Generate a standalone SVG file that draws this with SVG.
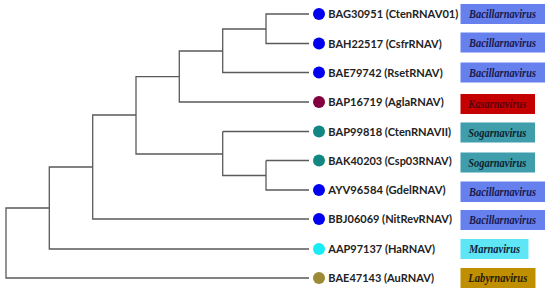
<svg xmlns="http://www.w3.org/2000/svg" width="550" height="292" viewBox="0 0 550 292">
<style>
.br{fill:none;stroke:#5a5a5a;stroke-width:1.3}
.lb{font-family:Lato,"Liberation Sans",sans-serif;font-weight:bold;font-size:12px;fill:#222}
.gn{font-family:"Liberation Serif",serif;font-weight:bold;font-style:italic;font-size:11.5px}
.bac{fill:#6680EE}
.kas{fill:#C40000}
.sog{fill:#3F9DAC}
.mar{fill:#5EE6F6}
.lab{fill:#BF8F00}
</style>
<rect width="550" height="292" fill="#fff"/>
<g id="connectors">
<path class="br" d="M309,14H266V43.5H309M266,29H222.7V72.5H309M222.7,51H179.3V102H309M179.3,76.7H136V154H222.7M222.7,131.5H309M222.7,131.5V175.5H266M266,160.5H309M266,160.5V190H309M136,115H92.7V219H309M92.7,167H49.3V249H309M49.3,208H6V278H309"/>
</g>
<g id="tip1"><circle cx="319" cy="14" r="6" fill="#0000F0"/><text class="lb" x="328.3" y="18.3" textLength="130" lengthAdjust="spacingAndGlyphs">BAG30951 (CtenRNAV01)</text></g>
<g id="tip2"><circle cx="319" cy="43.5" r="6" fill="#0000F0"/><text class="lb" x="328.3" y="47.8" textLength="113.4" lengthAdjust="spacingAndGlyphs">BAH22517 (CsfrRNAV)</text></g>
<g id="tip3"><circle cx="319" cy="72.5" r="6" fill="#0000F0"/><text class="lb" x="328.3" y="76.8" textLength="114.4" lengthAdjust="spacingAndGlyphs">BAE79742 (RsetRNAV)</text></g>
<g id="tip4"><circle cx="319" cy="102" r="6" fill="#82003F"/><text class="lb" x="328.3" y="106.3" textLength="115.4" lengthAdjust="spacingAndGlyphs">BAP16719 (AglaRNAV)</text></g>
<g id="tip5"><circle cx="319" cy="131.5" r="6" fill="#128682"/><text class="lb" x="328.3" y="135.8" textLength="122.7" lengthAdjust="spacingAndGlyphs">BAP99818 (CtenRNAVII)</text></g>
<g id="tip6"><circle cx="319" cy="160.5" r="6" fill="#128682"/><text class="lb" x="328.3" y="164.8" textLength="123.4" lengthAdjust="spacingAndGlyphs">BAK40203 (Csp03RNAV)</text></g>
<g id="tip7"><circle cx="319" cy="190" r="6" fill="#0000F0"/><text class="lb" x="328.3" y="194.3" textLength="117.4" lengthAdjust="spacingAndGlyphs">AYV96584 (GdelRNAV)</text></g>
<g id="tip8"><circle cx="319" cy="219" r="6" fill="#0000F0"/><text class="lb" x="328.3" y="223.3" textLength="123.7" lengthAdjust="spacingAndGlyphs">BBJ06069 (NitRevRNAV)</text></g>
<g id="tip9"><circle cx="319" cy="249" r="6" fill="#18EBF3"/><text class="lb" x="328.3" y="253.3" textLength="106.7" lengthAdjust="spacingAndGlyphs">AAP97137 (HaRNAV)</text></g>
<g id="tip10"><circle cx="319" cy="278" r="6" fill="#9C8A36"/><text class="lb" x="328.3" y="282.3" textLength="105.7" lengthAdjust="spacingAndGlyphs">BAE47143 (AuRNAV)</text></g>
<g id="genus1"><rect class="bac" x="460.5" y="4" width="84.5" height="20"/><text class="gn" x="469" y="18" textLength="67" lengthAdjust="spacingAndGlyphs" fill="#1a1a50">Bacillarnavirus</text></g>
<g id="genus2"><rect class="bac" x="460.5" y="32.5" width="84.5" height="20"/><text class="gn" x="469" y="46.5" textLength="67" lengthAdjust="spacingAndGlyphs" fill="#1a1a50">Bacillarnavirus</text></g>
<g id="genus3"><rect class="bac" x="460.5" y="62.5" width="84.5" height="20"/><text class="gn" x="469" y="76.5" textLength="67" lengthAdjust="spacingAndGlyphs" fill="#1a1a50">Bacillarnavirus</text></g>
<g id="genus4"><rect class="kas" x="460.5" y="94" width="74.5" height="20"/><text class="gn" x="468.3" y="108" textLength="58" lengthAdjust="spacingAndGlyphs" fill="#5a0010">Kasarnavirus</text></g>
<g id="genus5"><rect class="sog" x="460.5" y="122.5" width="74.5" height="20"/><text class="gn" x="468.3" y="136.5" textLength="58" lengthAdjust="spacingAndGlyphs" fill="#0e2530">Sogarnavirus</text></g>
<g id="genus6"><rect class="sog" x="460.5" y="152.5" width="74.5" height="20"/><text class="gn" x="468.3" y="166.5" textLength="58" lengthAdjust="spacingAndGlyphs" fill="#0e2530">Sogarnavirus</text></g>
<g id="genus7"><rect class="bac" x="460.5" y="181.5" width="84.5" height="20.5"/><text class="gn" x="469" y="195.8" textLength="67" lengthAdjust="spacingAndGlyphs" fill="#1a1a50">Bacillarnavirus</text></g>
<g id="genus8"><rect class="bac" x="460.5" y="210" width="84.5" height="20"/><text class="gn" x="469" y="224" textLength="67" lengthAdjust="spacingAndGlyphs" fill="#1a1a50">Bacillarnavirus</text></g>
<g id="genus9"><rect class="mar" x="460.5" y="239" width="68" height="20"/><text class="gn" x="469" y="253" textLength="51" lengthAdjust="spacingAndGlyphs" fill="#0e2540">Marnavirus</text></g>
<g id="genus10"><rect class="lab" x="460.5" y="268" width="75" height="20"/><text class="gn" x="468.3" y="282" textLength="59" lengthAdjust="spacingAndGlyphs" fill="#2a1a05">Labyrnavirus</text></g>
</svg>
